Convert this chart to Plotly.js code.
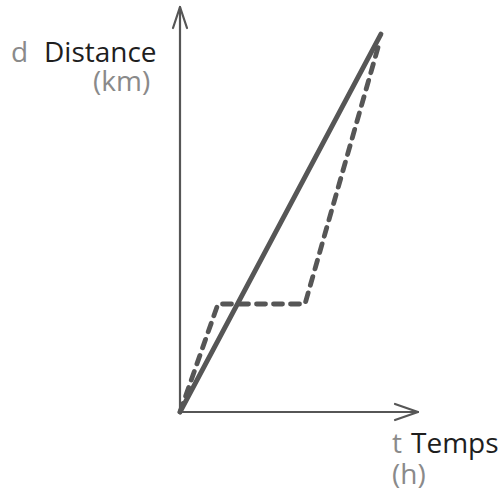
<!DOCTYPE html>
<html>
<head>
<meta charset="utf-8">
<script src="https://cdn.plot.ly/plotly-3.0.1.min.js"></script>
<style>
  html, body { margin: 0; padding: 0; background: #fff; }
  #chart { width: 500px; height: 501px; }
</style>
</head>
<body>
<div id="chart"></div>
<script>
// Config with plotly graphics settings
const PlotlyConfig = {
    displayModeBar: false,
    staticPlot: true,
};

// Chart data (time in h, distance in km)
const timeSteady = [0, 8.04];
const distSteady = [0, 14];
const timeStop = [0, 1.52, 5.0, 7.92];
const distStop = [0, 4.0, 4.0, 13.5];

// Axis labels
const yLetter = 'd';
const yName = 'Distance';
const yUnit = '(km)';
const xLetter = 't';
const xName = 'Temps';
const xUnit = '(h)';

// Axis ends
const xMax = 9.52;
const yMax = 15;

const W = 500, H = 501;
const Margin = { l: 170, r: 80, t: 4, b: 79 };
const PxPerX = 25, PxPerY = 27;
const LineColor = '#565656';
const LightText = '#8a8a8a';
const DarkText = '#1e1e1e';
const FontFamily = '"Open Sans", Lato, sans-serif';

// pixel -> paper helpers for the labels
const plotW = W - Margin.l - Margin.r;
const plotH = H - Margin.t - Margin.b;
function paperX(px) { return (px - Margin.l) / plotW; }
function paperY(py) { return (H - Margin.b - py) / plotH; }

var steadyTrace = {
    x: timeSteady,
    y: distSteady,
    type: 'scatter',
    mode: 'lines',
    hoverinfo: 'none',
    line: { color: LineColor, width: 4.8 }
};

var stopTrace = {
    x: timeStop,
    y: distStop,
    type: 'scatter',
    mode: 'lines',
    hoverinfo: 'none',
    line: { color: LineColor, width: 4.8, dash: '9px,8px' }
};

function label(px, py, anchor, text, color) {
    return {
        xref: 'paper', yref: 'paper',
        x: paperX(px), y: paperY(py),
        xanchor: anchor, yanchor: 'middle',
        text: text,
        showarrow: false,
        font: { family: FontFamily, size: 28, color: color }
    };
}

var layout = {
    width: W,
    height: H,
    margin: Margin,
    paper_bgcolor: '#fff',
    plot_bgcolor: '#fff',
    showlegend: false,
    xaxis: {
        range: [-10 / PxPerX, plotW / PxPerX - 10 / PxPerX],
        visible: false, fixedrange: true
    },
    yaxis: {
        range: [-10 / PxPerY, plotH / PxPerY - 10 / PxPerY],
        visible: false, fixedrange: true
    },
    shapes: [
        { type: 'line', xref: 'x', yref: 'y', x0: 0, y0: 0, x1: xMax, y1: 0,
          line: { color: LineColor, width: 2.2 } },
        { type: 'line', xref: 'x', yref: 'y', x0: 0, y0: 0, x1: 0, y1: yMax,
          line: { color: LineColor, width: 2.2 } },
        // arrow heads
        { type: 'path', xref: 'x', yref: 'y', xsizemode: 'pixel', ysizemode: 'pixel',
          xanchor: xMax, yanchor: 0, path: 'M-23,8 L0,0 L-23,-8',
          line: { color: LineColor, width: 2.2 } },
        { type: 'path', xref: 'x', yref: 'y', xsizemode: 'pixel', ysizemode: 'pixel',
          xanchor: 0, yanchor: yMax, path: 'M-7,-21 L0,0 L7,-21',
          line: { color: LineColor, width: 2.2 } }
    ],
    annotations: [
        label(19, 51, 'center', yLetter, LightText),
        label(100, 51, 'center', yName, DarkText),
        label(152, 80, 'right', yUnit, LightText),
        label(397, 442, 'center', xLetter, LightText),
        label(455, 442, 'center', xName, DarkText),
        label(390, 473, 'left', xUnit, LightText)
    ]
};

Plotly.newPlot('chart', [steadyTrace, stopTrace], layout, PlotlyConfig).then(function () {
    // round line ends like the drawing
    document.querySelectorAll('.js-line, .shapelayer path').forEach(function (el) {
        el.style.strokeLinecap = 'round';
        el.style.strokeLinejoin = 'round';
    });
});
</script>
</body>
</html>
